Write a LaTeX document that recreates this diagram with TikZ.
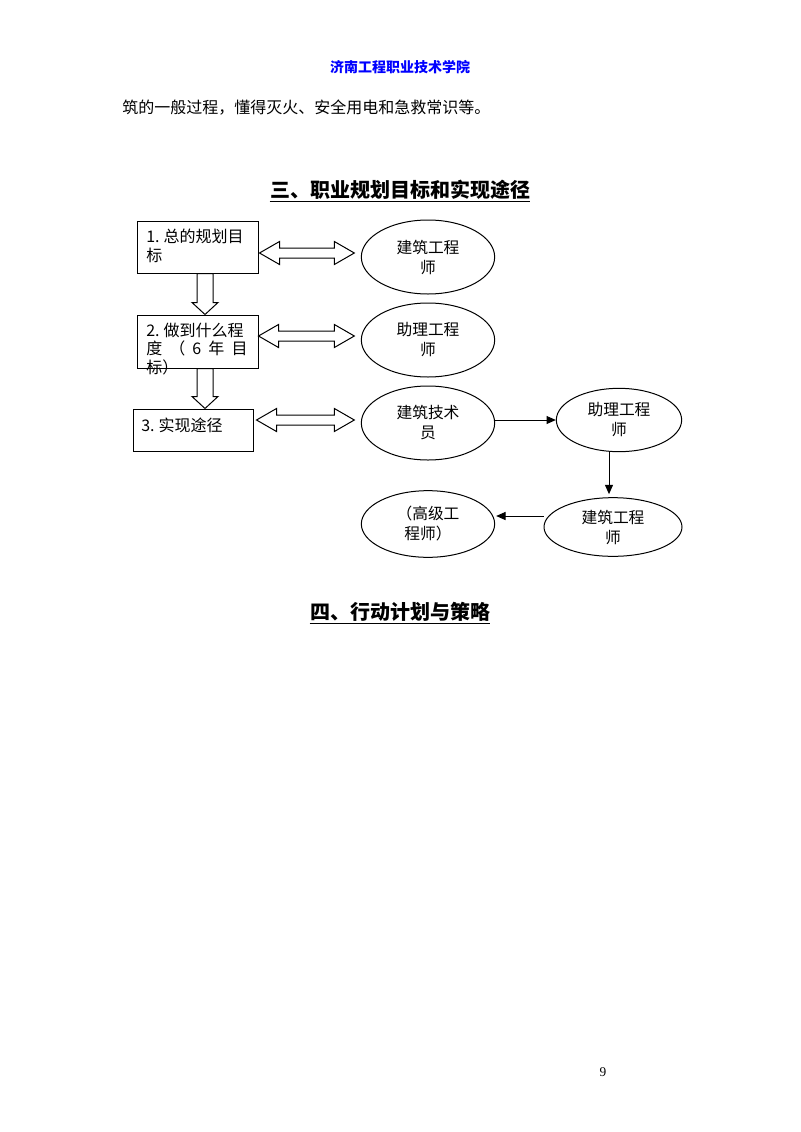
\documentclass[tikz,border=0pt]{standalone}
\usepackage{fontspec}
\usetikzlibrary{shapes.geometric,arrows.meta,calc}
\setmainfont{Liberation Serif}
\newfontfamily\cjk{Noto Sans CJK SC}
\newcommand{\hollowdown}[2]{%
  \draw[hollow] ($#1+(-8,0)$) -- ($#1+(8,0)$) -- ($#2+(8,-12)$) -- ($#2+(13,-12)$) -- #2 -- ($#2+(-13,-12)$) -- ($#2+(-8,-12)$) -- cycle;}
\newcommand{\hollowdbl}[2]{%
  \draw[hollow] #1 -- ($#1+(20,-11.5)$) -- ($#1+(20,-5)$) -- ($#2+(-20,-5)$) -- ($#2+(-20,-11.5)$) -- #2 -- ($#2+(-20,11.5)$) -- ($#2+(-20,5)$) -- ($#1+(20,5)$) -- ($#1+(20,11.5)$) -- cycle;}
\begin{document}
\begin{tikzpicture}[x=0.75pt,y=-0.75pt,
  box/.style={draw, line width=0.75pt, inner sep=0pt},
  boxtext/.style={anchor=west, align=left, inner sep=0pt, font=\cjk\fontsize{12pt}{13.8pt}\selectfont},
  ell/.style={draw, ellipse, line width=0.75pt, minimum width=100pt, minimum height=55.5pt, inner sep=0pt, align=center, font=\cjk\fontsize{11.8pt}{15pt}\selectfont},
  hollow/.style={draw, line width=0.75pt, fill=white, line join=miter},
  con/.style={draw, line width=0.75pt, -{Triangle[length=7pt,width=6pt]}},
  heading/.style={inner sep=0pt, font=\cjk\bfseries\fontsize{15pt}{18pt}\selectfont}]
\useasboundingbox[fill=white] (0,0) rectangle (800,1132);

% page header and body text
\node[inner sep=0pt, text=blue, font=\cjk\bfseries\fontsize{10.5pt}{12pt}\selectfont] (hdr) at (400,67) {济南工程职业技术学院};
\node[anchor=west, inner sep=0pt, font=\cjk\fontsize{12pt}{14pt}\selectfont] (body) at (122,108) {筑的一般过程，懂得灭火、安全用电和急救常识等。};

% section title 3
\node[heading] (t3) at (400,190) {三、职业规划目标和实现途径};
\draw[line width=1.1pt] ($(t3.base west)+(0,4)$) -- ($(t3.base east)+(0,4)$);

% boxes
\node[box, minimum width=90.75pt, minimum height=39pt] (b1) at (197.5,247) {};
\node[box, minimum width=90.75pt, minimum height=39.75pt] (b2) at (197.5,341.5) {};
\node[box, minimum width=90pt, minimum height=31.5pt] (b3) at (193,430) {};
\node[boxtext] (b1t) at (146,246) {1.\hspace{3pt}总的规划目\\标};
\node[boxtext, font=\cjk\fontsize{12pt}{14.2pt}\selectfont] (b2t) at (146,349) {2.\hspace{3pt}做到什么程\\\makebox[76pt][s]{度\hfill（\hfill 6\hfill 年\hfill 目}\\标）};
\node[boxtext] (b3t) at (141,425) {3.\hspace{3pt}实现途径};

% ellipses
\node[ell] (e1) at (428,257) {建筑工程\\师};
\node[ell] (e2) at (428,340) {助理工程\\师};
\node[ell] (e3) at (428,423) {建筑技术\\员};
\node[ell, minimum width=94pt, minimum height=47.5pt] (e4) at (619,420) {助理工程\\师};
\node[ell, minimum width=103.5pt, minimum height=44pt] (e5) at (613,527) {建筑工程\\师};
\node[ell, minimum width=100pt, minimum height=50pt] (e6) at (428,524) {（高级工\\程师）};

% hollow down arrows
\coordinate (d1t) at ($(b1.south)+(7.5,0)$);
\coordinate (d1b) at ($(b2.north)+(7.5,0)$);
\coordinate (d2t) at ($(b2.south)+(7.5,0)$);
\coordinate (d2b) at ($(b3.north)+(12,0)$);
\hollowdown{(d1t)}{(d1b)}
\hollowdown{(d2t)}{(d2b)}

% hollow double arrows
\coordinate (a1l) at ($(b1.east)+(1,6)$);
\coordinate (a1r) at ($(e1.west)+(-6.5,-4)$);
\coordinate (a2l) at ($(b2.east)+(0,-5.5)$);
\coordinate (a2r) at ($(e2.west)+(-6.5,-4)$);
\coordinate (a3l) at ($(b3.east)+(3,-10)$);
\coordinate (a3r) at ($(e3.west)+(-6.5,-3)$);
\hollowdbl{(a1l)}{(a1r)}
\hollowdbl{(a2l)}{(a2r)}
\hollowdbl{(a3l)}{(a3r)}

% progression arrows
\draw[con] ($(e3.east)+(0,-3)$) -- ($(e4.west)+(0,0)$);
\draw[con] ($(e4.south)+(-10,0)$) -- ($(e4.south |- e5.north)+(-10,-3)$);
\draw[con] ($(e5.west)+(0,-11)$) -- ($(e6.east)+(1,-8)$);

% section title 4
\node[heading] (t4) at (400,612) {四、行动计划与策略};
\draw[line width=1.1pt] ($(t4.base west)+(0,4)$) -- ($(t4.base east)+(0,4)$);

% page number
\node[inner sep=0pt, font=\fontsize{10pt}{12pt}\selectfont] (pg) at (603,1072) {9};
\end{tikzpicture}
\end{document}
